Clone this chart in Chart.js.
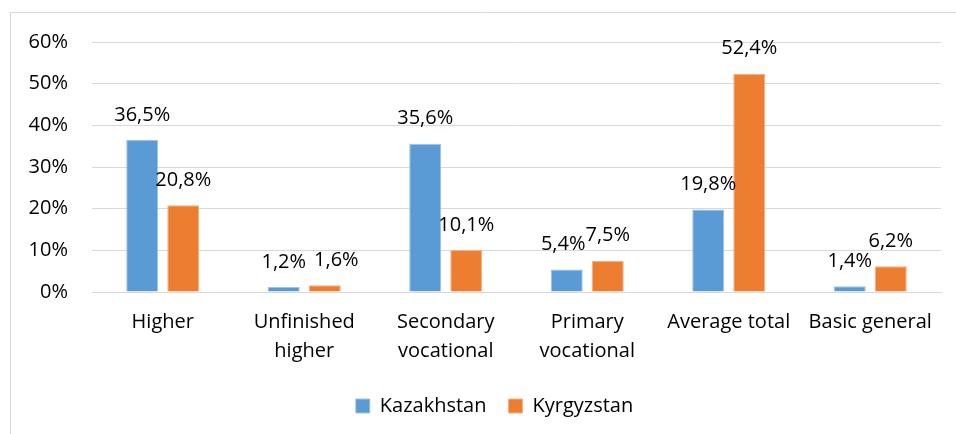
<!DOCTYPE html>
<html lang="en">
  <head>
    <meta charset="utf-8" />
    <title>Education levels: Kazakhstan vs Kyrgyzstan</title>
    <style>
      * {
        margin: 0;
        padding: 0;
      }
      body {
        background: #fff;
        width: 956px;
        height: 434px;
        overflow: hidden;
      }
    </style>
  </head>
  <body>
    <canvas id="myChart"></canvas>
    <script src="https://cdn.jsdelivr.net/npm/chart.js/dist/chart.umd.min.js"></script>
    <script>
      // data (percent)
      const categories = [
        "Higher",
        ["Unfinished", "higher"],
        ["Secondary", "vocational"],
        ["Primary", "vocational"],
        "Average total",
        "Basic general",
      ];
      const kazakhstan = [36.5, 1.2, 35.6, 5.4, 19.8, 1.4];
      const kyrgyzstan = [20.8, 1.6, 10.1, 7.5, 52.4, 6.2];
      const yTicks = [0, 10, 20, 30, 40, 50, 60];

      const FONT = "'Open Sans', sans-serif";
      const SIZE = 20;
      const fmt = (v) => v.toFixed(1).replace(".", ",") + "%";

      // thin frame round the chart (top and left edges show in the crop)
      const frame = {
        id: "frame",
        beforeDraw(chart) {
          const ctx = chart.ctx;
          ctx.save();
          ctx.strokeStyle = "#d9d9d9";
          ctx.lineWidth = 1;
          ctx.beginPath();
          ctx.moveTo(10.5, chart.height);
          ctx.lineTo(10.5, 12.5);
          ctx.lineTo(chart.width, 12.5);
          ctx.stroke();
          ctx.restore();
        },
        // the legend sits centred on the full (cropped) frame, a bit right
        afterLayout(chart) {
          chart.legend.left += 24;
          chart.legend.right += 24;
        },
      };

      // labels above the bars, nudged apart when two in a group collide
      const barLabels = {
        id: "barLabels",
        afterDatasetsDraw(chart) {
          const ctx = chart.ctx;
          ctx.save();
          ctx.font = SIZE + "px " + FONT;
          ctx.fillStyle = "#000";
          ctx.textAlign = "center";
          ctx.textBaseline = "middle";
          const m0 = chart.getDatasetMeta(0).data;
          const m1 = chart.getDatasetMeta(1).data;
          const d0 = chart.data.datasets[0].data;
          const d1 = chart.data.datasets[1].data;
          for (let i = 0; i < m0.length; i++) {
            const a = { t: fmt(d0[i]), x: m0[i].x, y: m0[i].y - 25 };
            const b = { t: fmt(d1[i]), x: m1[i].x, y: m1[i].y - 25 };
            const wa = ctx.measureText(a.t).width;
            const wb = ctx.measureText(b.t).width;
            const overlap = a.x + wa / 2 - (b.x - wb / 2);
            if (overlap > 0 && Math.abs(a.y - b.y) < 18) {
              if (Math.abs(a.y - b.y) < 5) b.x += overlap + 8;
              else a.x -= overlap;
            }
            ctx.fillText(a.t, a.x, a.y);
            ctx.fillText(b.t, b.x, b.y);
          }
          ctx.restore();
        },
      };

      const data = {
        labels: categories,
        datasets: [
          {
            label: "Kazakhstan",
            data: kazakhstan,
            backgroundColor: "#5b9bd5",
            borderColor: "#9dc3e6",
            borderWidth: 1,
          },
          {
            label: "Kyrgyzstan",
            data: kyrgyzstan,
            backgroundColor: "#ed7d31",
            borderColor: "#f4b183",
            borderWidth: 1,
          },
        ],
      };

      const config = {
        type: "bar",
        data,
        options: {
          responsive: false,
          animation: false,
          categoryPercentage: 0.58,
          barPercentage: 0.78,
          layout: { padding: { top: 42, right: 15, left: 0, bottom: 8 } },
          scales: {
            x: {
              grid: { display: false },
              border: { color: "#d9d9d9", width: 1 },
              ticks: {
                color: "#000",
                font: { family: FONT, size: SIZE, lineHeight: 1.45 },
                padding: 8,
                maxRotation: 0,
                autoSkip: false,
              },
              afterFit(scale) {
                scale.height = 82;
              },
            },
            y: {
              min: 0,
              max: 60,
              afterBuildTicks(scale) {
                scale.ticks = yTicks.map((v) => ({ value: v }));
              },
              grid: { color: "#d9d9d9", lineWidth: 1, drawTicks: false },
              border: { display: false },
              ticks: {
                color: "#000",
                font: { family: FONT, size: SIZE },
                padding: 24,
                callback: (v) => v + "%",
              },
              afterFit(scale) {
                scale.width = 92;
              },
            },
          },
          plugins: {
            legend: {
              position: "bottom",
              labels: {
                color: "#000",
                font: { family: FONT, size: SIZE },
                boxWidth: 14,
                boxHeight: 14,
                padding: 22,
              },
            },
            tooltip: { enabled: false },
          },
        },
        plugins: [frame, barLabels],
      };

      const canvas = document.getElementById("myChart");
      canvas.width = 956;
      canvas.height = 434;
      new Chart(canvas, config);
    </script>
  </body>
</html>
